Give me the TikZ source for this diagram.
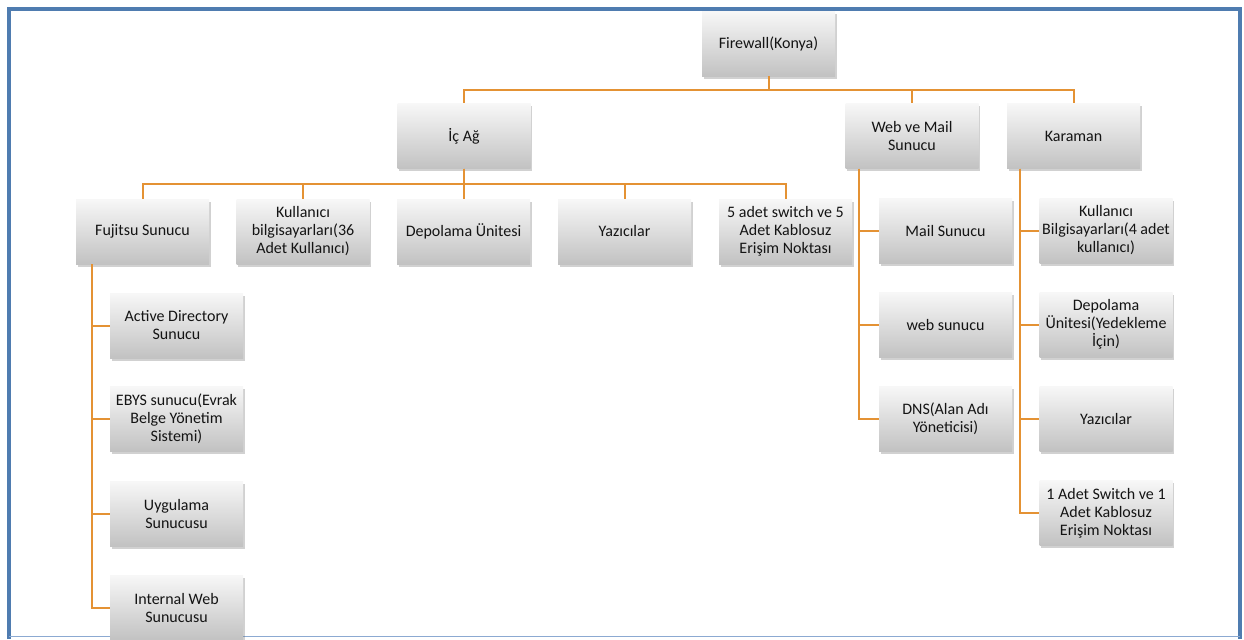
\documentclass[tikz,border=0pt]{standalone}
\usepackage{fontspec}
\setmainfont{Carlito}
\usepackage{xcolor}
\definecolor{turuncu}{RGB}{228, 146, 52}
\definecolor{mavi}{RGB}{79, 124, 176}
\definecolor{acikMavi}{RGB}{140, 170, 210}
\usepackage{tikz}
\usetikzlibrary{calc,shadows,positioning}
\tikzstyle{edge}  =[draw=turuncu, line width=1.5pt]
\tikzstyle{kutu}  =[rectangle, minimum width=99.75pt, minimum height=48.75pt,
                    inner sep=0.5pt, align=center, top color=black!3,
                    bottom color=black!24,
                    drop shadow={shadow xshift=1.2pt, shadow yshift=-2.2pt,
                                 opacity=0.3, fill=black!60},
                    font=\fontsize{12}{13.5}\selectfont, text=black!92]

\begin{document}
\begin{tikzpicture}[x=0.75pt, y=-0.75pt]
    \useasboundingbox (0,0) rectangle (1244,639);

    % cerceve
    \draw [mavi, line width=3pt] (8.5,639) -- (8.5,8.5) -- (1239.5,8.5) -- (1239.5,639);
    \draw [acikMavi, line width=1pt] (8.5,636.5) -- (1239.5,636.5);

    \begin{scope}
        \draw (768.5,43.5) node (fw) [kutu] {Firewall(Konya)};

        \draw (464,136) node (ic) [kutu] {İç Ağ};
        \draw (912,136) node (web) [kutu] {Web ve Mail\\Sunucu};
        \draw (1073.5,136) node (kar) [kutu] {Karaman};

        \draw (142.5,231.5) node (fuj) [kutu] {Fujitsu Sunucu};
        \draw (303,231.5) node (kul) [kutu] {Kullanıcı\\bilgisayarları(36\\Adet Kullanıcı)};
        \draw (463.5,231.5) node (dep) [kutu] {Depolama Ünitesi};
        \draw (624.5,231.5) node (yaz) [kutu] {Yazıcılar};
        \draw (785.5,231.5) node (swi) [kutu] {5 adet switch ve 5\\Adet Kablosuz\\Erişim Noktası};

        \draw (176.5,325.5) node (ad) [kutu] {Active Directory\\Sunucu};
        \draw (176.5,418.5) node (ebys) [kutu] {EBYS sunucu(Evrak\\Belge Yönetim\\Sistemi)};
        \draw (176.5,513.5) node (uyg) [kutu] {Uygulama\\Sunucusu};
        \draw (176.5,607.5) node (iweb) [kutu] {Internal Web\\Sunucusu};

        \draw (945.5,230.5) node (mail) [kutu] {Mail Sunucu};
        \draw (945.5,324.5) node (wsun) [kutu] {web sunucu};
        \draw (945.5,418.5) node (dns) [kutu] {DNS(Alan Adı\\Yöneticisi)};

        \draw (1106,230.5) node (kkul) [kutu] {Kullanıcı\\Bilgisayarları(4 adet\\kullanıcı)};
        \draw (1106,324.5) node (kdep) [kutu] {Depolama\\Ünitesi(Yedekleme\\İçin)};
        \draw (1106,418.5) node (kyaz) [kutu] {Yazıcılar};
        \draw (1106,513) node (kswi) [kutu] {1 Adet Switch ve 1\\Adet Kablosuz\\Erişim Noktası};
    \end{scope}

    \begin{scope}[on background layer/.try]
        \foreach \j in {ic,web,kar}
            \draw [edge] (fw.south) -- ++(0,13.5) -| (\j.north);
        \foreach \j in {fuj,kul,dep,yaz,swi}
            \draw [edge] (ic.south) -- ++(0,15) -| (\j.north);
        \foreach \j in {ad,ebys,uyg,iweb}
            \draw [edge] ($(fuj.south west)+(16,0)$) |- (\j.west);
        \foreach \j in {mail,wsun,dns}
            \draw [edge] ($(web.south west)+(14,0)$) |- (\j.west);
        \foreach \j in {kkul,kdep,kyaz,kswi}
            \draw [edge] ($(kar.south west)+(13,0)$) |- (\j.west);
    \end{scope}

\end{tikzpicture}
\end{document}
